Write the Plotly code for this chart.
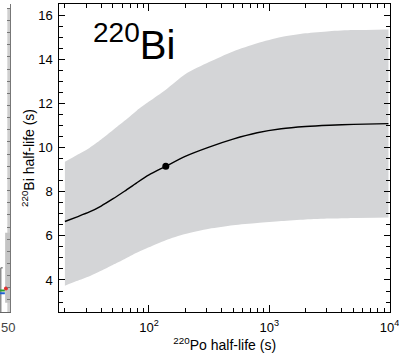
import plotly.graph_objects as go

# 220Po half-life grid (s) and the resulting 220Bi half-life (s)
po_halflife = [20, 25, 32, 40, 50, 63, 79, 100, 138, 200, 316, 500, 794, 1259, 2000, 3162, 5012, 9800]
bi_central = [6.65, 6.85, 7.08, 7.35, 7.67, 8.03, 8.40, 8.76, 9.15, 9.60, 10.02, 10.38,
              10.67, 10.85, 10.95, 11.01, 11.05, 11.08]
bi_upper = [9.36, 9.65, 9.98, 10.36, 10.78, 11.22, 11.67, 12.08, 12.62, 13.32, 13.87, 14.35,
            14.72, 15.0, 15.17, 15.27, 15.32, 15.35]
bi_lower = [3.74, 3.95, 4.17, 4.42, 4.68, 4.95, 5.23, 5.48, 5.80, 6.08, 6.32, 6.48,
            6.58, 6.67, 6.74, 6.78, 6.81, 6.83]

# measured 220Po half-life and the matching 220Bi value
po_measured = [138]
bi_measured = [9.15]

y_ticks = [4, 6, 8, 10, 12, 14, 16]
x_ticks = [100, 1000, 10000]
x_ticktext = ["10<sup>2</sup>", "10<sup>3</sup>", "10<sup>4</sup>"]
x_minor = [m * 10 ** e for e in (1, 2, 3) for m in range(2, 10)]

# edge of the neighbouring panel
side_x_ticks = [50]
side_band_x = [49.3, 51.5]
side_band_top = [16.3, 16.3]
side_wide_x = [47.7, 51.5]
side_wide_top = [6.14, 6.14]
side_wide_bottom = [2.97, 2.97]
side_box_x = [46.0, 44.6, 44.6]
side_box_y = [4.55, 4.55, 2.55]
side_green_x = [44.0, 47.5]
side_green_y = [3.52, 3.52]
side_blue_x = [44.0, 47.5]
side_blue_y = [3.40, 3.40]
side_red_x = [48.3]
side_red_y = [3.62]

GRAY = "#d4d5d7"
FONT = "Liberation Sans, Arial, sans-serif"

W, H = 399, 356
ML, MR = 0, 5
paper_w = W - ML - MR
main_left = 60 / paper_w
side_right = 10.5 / paper_w

fig = go.Figure()

# uncertainty band
fig.add_trace(go.Scatter(x=po_halflife, y=bi_lower, mode="lines",
                         line=dict(width=0, shape="spline", smoothing=0.7),
                         showlegend=False, hoverinfo="skip"))
fig.add_trace(go.Scatter(x=po_halflife, y=bi_upper, mode="lines", fill="tonexty",
                         fillcolor=GRAY, line=dict(width=0, shape="spline", smoothing=0.7),
                         showlegend=False, hoverinfo="skip"))
# central curve
fig.add_trace(go.Scatter(x=po_halflife, y=bi_central, mode="lines",
                         line=dict(color="black", width=1.4, shape="spline", smoothing=0.7),
                         showlegend=False))
fig.add_trace(go.Scatter(x=po_measured, y=bi_measured, mode="markers",
                         marker=dict(color="black", size=7), showlegend=False))

# neighbouring panel strip
fig.add_trace(go.Scatter(x=side_band_x, y=side_band_top, mode="lines", fill="tozeroy",
                         fillcolor="#cfcfcf", line=dict(width=0), showlegend=False,
                         xaxis="x2", yaxis="y2"))
fig.add_trace(go.Scatter(x=side_wide_x, y=side_wide_bottom, mode="lines",
                         line=dict(width=0), showlegend=False, xaxis="x2", yaxis="y2"))
fig.add_trace(go.Scatter(x=side_wide_x, y=side_wide_top, mode="lines", fill="tonexty",
                         fillcolor="#c4c4c4", line=dict(width=0), showlegend=False,
                         xaxis="x2", yaxis="y2"))
fig.add_trace(go.Scatter(x=side_box_x, y=side_box_y, mode="lines",
                         line=dict(color="#555555", width=1), showlegend=False,
                         xaxis="x2", yaxis="y2"))
fig.add_trace(go.Scatter(x=side_green_x, y=side_green_y, mode="lines",
                         line=dict(color="#2ca02c", width=2), showlegend=False,
                         xaxis="x2", yaxis="y2"))
fig.add_trace(go.Scatter(x=side_blue_x, y=side_blue_y, mode="lines",
                         line=dict(color="#1f5fd0", width=2), showlegend=False,
                         xaxis="x2", yaxis="y2"))
fig.add_trace(go.Scatter(x=side_red_x, y=side_red_y, mode="markers",
                         marker=dict(color="#e03030", size=4), showlegend=False,
                         xaxis="x2", yaxis="y2"))

axis_common = dict(showline=True, linecolor="black", linewidth=1.2, mirror="ticks",
                   ticks="inside", tickcolor="black", tickwidth=1.2,
                   showgrid=False, zeroline=False, layer="above traces")

fig.update_layout(
    width=W, height=H,
    margin=dict(l=ML, r=MR, t=4, b=44),
    paper_bgcolor="white", plot_bgcolor="white",
    font=dict(family=FONT, size=14, color="black"),
    xaxis=dict(
        type="log", range=[1.2553, 4.004], domain=[main_left, 1],
        tickmode="array", tickvals=x_ticks, ticktext=x_ticktext, ticklen=7,
        minor=dict(tickvals=x_minor, ticks="inside", ticklen=4, tickcolor="black",
                   tickwidth=1.1),
        title=dict(text="<sup>220</sup>Po half-life (s)", standoff=4,
                   font=dict(size=14)),
        tickfont=dict(size=13), ticklabelstandoff=3, ticklabeloverflow="allow",
        **axis_common),
    yaxis=dict(
        range=[2.55, 16.5], tickmode="array", tickvals=y_ticks, ticklen=6,
        minor=dict(dtick=0.5, tick0=0, ticks="inside", ticklen=3.5, tickcolor="black",
                   tickwidth=1.1),
        title=dict(text="<sup>220</sup>Bi half-life (s)", standoff=0,
                   font=dict(size=14)),
        tickfont=dict(size=13), ticklabelstandoff=3, **axis_common),
    xaxis2=dict(domain=[0, side_right], range=[44, 51.5], anchor="y2",
                tickmode="array", tickvals=side_x_ticks, showline=True,
                linecolor="#666666", ticks="", showgrid=False, zeroline=False,
                tickfont=dict(size=13, color="#444444"), ticklabelstandoff=3,
                ticklabeloverflow="allow"),
    yaxis2=dict(range=[2.55, 16.5], anchor="x2", side="right", showline=True,
                linecolor="#777777", ticks="inside", ticklen=3, tickcolor="#777777",
                dtick=0.55, tick0=2.55, showticklabels=False, showgrid=False,
                zeroline=False),
    annotations=[dict(
        text="<sup>220</sup>Bi", x=0.095, y=0.965, xref="x domain", yref="y domain",
        xanchor="left", yanchor="top", showarrow=False,
        font=dict(size=40, family=FONT, color="black"))],
)

fig.write_html("out.html")
